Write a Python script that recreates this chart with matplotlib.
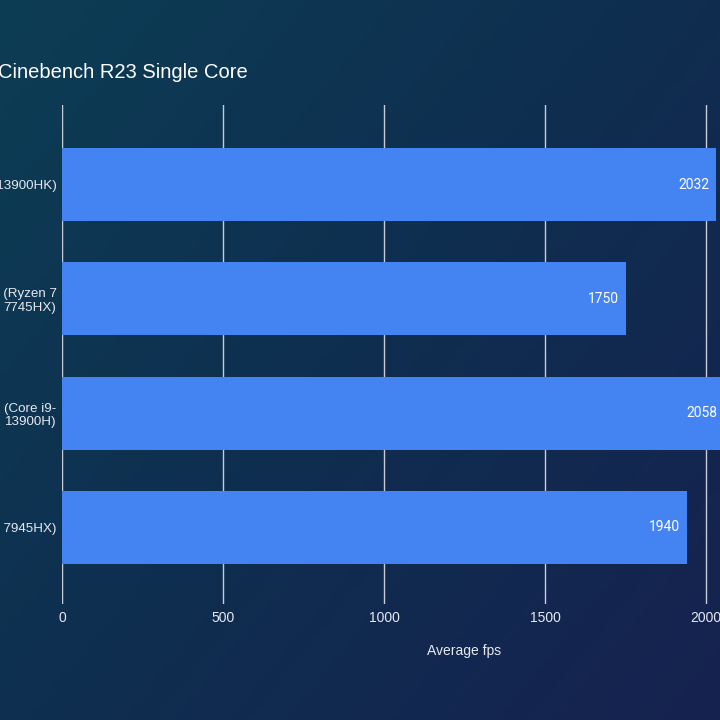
import numpy as np
import matplotlib
matplotlib.use("Agg")
import matplotlib.pyplot as plt
from matplotlib.colors import LinearSegmentedColormap

title = "Cinebench R23 Single Core"
categories = ["(Core i9-13900HK)", "5 (Ryzen 7\n7745HX)", "(Core i9-\n13900H)", "(Ryzen 9 7945HX)"]
values = [2032, 1750, 2058, 1940]
xticks = [0, 500, 1000, 1500, 2000, 2500]
xlabel = "Average fps"

W, H = 720, 720
fig = plt.figure(figsize=(7.2, 7.2), dpi=100)

# background gradient
bg = fig.add_axes([0, 0, 1, 1], zorder=-10)
bg.set_axis_off()
yy, xx = np.mgrid[0:1:200j, 0:1:200j]
t = np.clip(0.55 * xx + 0.45 * yy, 0, 1)
cmap = LinearSegmentedColormap.from_list("bg", ["#0c3d54", "#0f2e50", "#16224f"])
bg.imshow(t, cmap=cmap, aspect="auto", extent=[0, 1, 0, 1], origin="upper")

# axes: x=0 at 62px, 500 units per 161px; y from 105 to 604px
left = 62
right = left + 2500 * 161 / 500
top, bottom = 105, 604
ax = fig.add_axes([left / W, 1 - bottom / H, (right - left) / W, (bottom - top) / H])
ax.set_facecolor("none")

pos = np.arange(len(categories))
bars = ax.barh(pos, values, height=0.64, color="#4484f2", zorder=3)
ax.set_ylim(3.67, -0.697)
ax.set_xlim(0, 2500)
ax.set_xticks(xticks)
ax.set_xticklabels([str(v) for v in xticks], color="#e6e9f0", fontsize=10,
                   family="Liberation Sans")
ax.set_yticks(pos)
ax.set_yticklabels(categories, color="#e6e9f0", fontsize=9.6, family="Liberation Sans")
ax.tick_params(axis="both", length=0)
ax.tick_params(axis="x", pad=5)
ax.tick_params(axis="y", pad=4)
ax.grid(axis="x", color="#c9ccd4", linewidth=1.0, zorder=0)
ax.grid(axis="y", visible=False)
for s in ax.spines.values():
    s.set_visible(False)
ax.axvline(0, color="#3a4a66", linewidth=1, zorder=1)

for b, v in zip(bars, values):
    ax.annotate(str(v), xy=(v, b.get_y() + b.get_height() / 2), xytext=(-5, 0),
                textcoords="offset points", ha="right", va="center",
                color="white", fontsize=10, family="Roboto", zorder=4)

ax.set_xlabel(xlabel, color="#e6e9f0", fontsize=10, family="Liberation Sans", labelpad=14)

fig.text(-2 / W, 1 - 73 / H, title, ha="left", va="center", color="white",
         fontsize=14.5, family="Liberation Sans")

fig.savefig("out.png", dpi=100)
